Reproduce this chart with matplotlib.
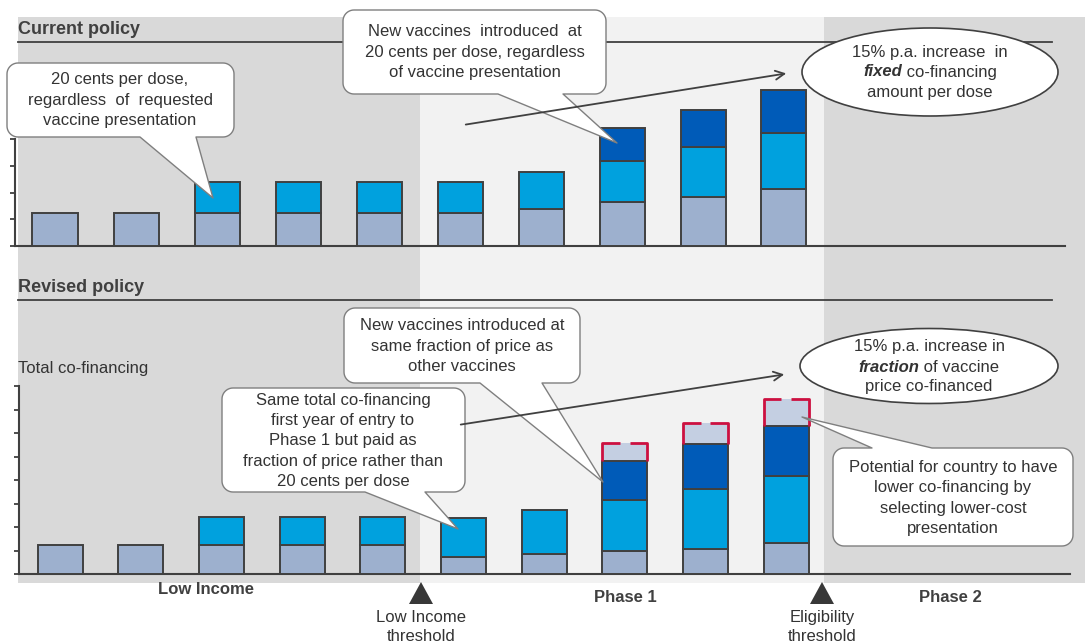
"""
Co-financing policy: current vs revised, stacked bars by income phase
"""
import matplotlib
matplotlib.use('Agg')
import matplotlib.pyplot as plt
from matplotlib.patches import Polygon, Ellipse, Rectangle
import numpy as np

plt.rcParams['font.family'] = ['Liberation Sans', 'DejaVu Sans']

# ── data (co-financing units per year, 10 years) ──
years = np.arange(10)

cur_base = [1.24, 1.24, 1.24, 1.24, 1.24, 1.24, 1.39, 1.65, 1.84, 2.13]
cur_new1 = [0, 0, 1.16, 1.16, 1.16, 1.16, 1.39, 1.54, 1.87, 2.10]
cur_new2 = [0, 0, 0, 0, 0, 0, 0, 1.24, 1.39, 1.61]

rev_base = [1.23, 1.23, 1.23, 1.23, 1.23, 0.72, 0.85, 0.98, 1.06, 1.32]
rev_new1 = [0, 0, 1.19, 1.19, 1.19, 1.66, 1.87, 2.17, 2.55, 2.85]
rev_new2 = [0, 0, 0, 0, 0, 0, 0, 1.66, 1.91, 2.13]
rev_saving = [0, 0, 0, 0, 0, 0, 0, 0.77, 0.89, 1.15]

# ── colours ──
GRAY_BG = '#D9D9D9'
LIGHT_BG = '#F2F2F2'
EDGE = '#404040'
TXT = '#333333'
C_BASE = '#9DB0CE'
C_NEW1 = '#00A1DE'
C_NEW2 = '#005BB8'
C_SAVE = '#C4CFE2'
RED = '#CC1040'

W, H = 1085, 643
fig = plt.figure(figsize=(W / 100, H / 100), dpi=100)


def fbox(l, t, r, b):
    return [l / W, 1 - b / H, (r - l) / W, (b - t) / H]


# ── background bands ──
bg = fig.add_axes([0, 0, 1, 1])
bg.set_xlim(0, W)
bg.set_ylim(H, 0)
bg.axis('off')
bg.set_zorder(0)
bg.add_patch(Rectangle((18, 17), 402, 566, color=GRAY_BG, lw=0))
bg.add_patch(Rectangle((420, 17), 404, 566, color=LIGHT_BG, lw=0))
bg.add_patch(Rectangle((824, 17), 261, 566, color=GRAY_BG, lw=0))
bg.plot([18, 1052], [42, 42], color=EDGE, lw=1.3)
bg.plot([18, 1052], [300, 300], color=EDGE, lw=1.3)
bg.text(18, 29, 'Current policy', fontsize=13, fontweight='bold', color=EDGE, va='center')
bg.text(18, 287, 'Revised policy', fontsize=13, fontweight='bold', color=EDGE, va='center')
bg.text(18, 369, 'Total co-financing', fontsize=12, color=TXT, va='center')


def panel(box, ymax, xlim, nticks):
    ax = fig.add_axes(fbox(*box))
    ax.set_zorder(1)
    ax.set_facecolor('none')
    ax.set_xlim(*xlim)
    ax.set_ylim(0, ymax)
    for s in ('top', 'right'):
        ax.spines[s].set_visible(False)
    for s in ('left', 'bottom'):
        ax.spines[s].set_color(EDGE)
        ax.spines[s].set_linewidth(1.5)
    ax.spines['left'].set_bounds(0, nticks)
    ax.set_yticks(range(nticks + 1))
    ax.set_yticklabels([])
    ax.set_xticks([])
    ax.tick_params(axis='y', direction='out', length=3.5, width=1.3, color=EDGE)
    return ax


def stack(ax, layers, colors, width):
    bottom = np.zeros(len(years))
    for vals, col in zip(layers, colors):
        vals = np.asarray(vals, dtype=float)
        m = vals > 0
        ax.bar(years[m], vals[m], width, bottom=bottom[m], color=col,
               edgecolor=EDGE, lw=1.4, zorder=3)
        bottom += vals
    return bottom


# ── top panel: current policy ──
ax1 = panel((15, 42, 1065, 246), 204 / 26.7, (-40 / 81, 1010 / 81), 4)
stack(ax1, [cur_base, cur_new1, cur_new2], [C_BASE, C_NEW1, C_NEW2], 45 / 81)

# ── bottom panel: revised policy ──
bw = 45 / 80.7
ax2 = panel((19, 300, 1070, 574), 274 / 23.5, (-41 / 80.7, 1010 / 80.7), 8)
tops = stack(ax2, [rev_base, rev_new1, rev_new2], [C_BASE, C_NEW1, C_NEW2], bw)
save = np.asarray(rev_saving)
m = save > 0
ax2.bar(years[m], save[m], bw, bottom=tops[m], color=C_SAVE, lw=0, zorder=2)
gap = 0.06
for xi, y0, h in zip(years[m], tops[m], save[m]):
    xl, xr = xi - bw / 2, xi + bw / 2
    ax2.plot([xl, xl, xi - gap], [y0, y0 + h, y0 + h], color=RED, lw=2,
             solid_capstyle='butt', zorder=4)
    ax2.plot([xi + gap, xr, xr], [y0 + h, y0 + h, y0], color=RED, lw=2,
             solid_capstyle='butt', zorder=4)

# ── overlay: callouts, arrows, labels ──
ov = fig.add_axes([0, 0, 1, 1])
ov.set_xlim(0, W)
ov.set_ylim(H, 0)
ov.axis('off')
ov.set_zorder(5)


def callout(l, t, r, b, tail, tip, side='bottom', rad=11):
    a0, a1 = tail

    def arc(cx, cy, t0, t1):
        th = np.radians(np.linspace(t0, t1, 12))
        return list(zip(cx + rad * np.cos(th), cy + rad * np.sin(th)))

    pts = []
    if side == 'top':
        pts += [(a0, t), tip, (a1, t)]
    pts += arc(r - rad, t + rad, -90, 0)
    pts += arc(r - rad, b - rad, 0, 90)
    if side == 'bottom':
        pts += [(a1, b), tip, (a0, b)]
    pts += arc(l + rad, b - rad, 90, 180)
    pts += arc(l + rad, t + rad, 180, 270)
    ov.add_patch(Polygon(pts, closed=True, fc='white', ec='#7F7F7F', lw=1,
                         joinstyle='round'))


def note(x, y, s, ls=1.42):
    ov.text(x, y, s, fontsize=12, color=TXT, ha='center', va='center',
            linespacing=ls, multialignment='center')


def mixed_line(x, y, parts):
    r = fig.canvas.get_renderer()
    objs = [ov.text(0, y, s, fontsize=12, color=TXT, ha='left', va='center',
                    fontweight=w, style=st) for s, w, st in parts]
    widths = [o.get_window_extent(r).width for o in objs]
    xs = x - sum(widths) / 2
    for o, wd in zip(objs, widths):
        o.set_x(xs)
        xs += wd


# top panel notes
callout(7, 63, 234, 137, (140, 196), (213, 198))
note(120, 100, '20 cents per dose,\nregardless  of  requested\nvaccine presentation')

callout(343, 10, 606, 94, (498, 563), (617, 143))
note(475, 52, 'New vaccines  introduced  at\n20 cents per dose, regardless\nof vaccine presentation')

ov.add_patch(Ellipse((930, 72), 256, 88, fc='white', ec=EDGE, lw=1.2))
note(930, 52, '15% p.a. increase  in')
mixed_line(930, 72, [('fixed', 'bold', 'italic'), (' co-financing', 'normal', 'normal')])
note(930, 93, 'amount per dose')

ov.annotate('', xy=(789, 73), xytext=(463, 125),
            arrowprops=dict(arrowstyle='->', color=EDGE, lw=1.3, mutation_scale=16))

# bottom panel notes
callout(344, 308, 580, 383, (480, 542), (603, 482))
note(462, 346, 'New vaccines introduced at\nsame fraction of price as\nother vaccines')

callout(222, 388, 465, 492, (365, 425), (458, 529))
note(343, 441, 'Same total co-financing\nfirst year of entry to\nPhase 1 but paid as\n'
     'fraction of price rather than\n20 cents per dose')

ov.add_patch(Ellipse((929, 366), 258, 75, fc='white', ec=EDGE, lw=1.2))
note(929, 347, '15% p.a. increase in')
mixed_line(929, 367, [('fraction', 'bold', 'italic'), (' of vaccine', 'normal', 'normal')])
note(929, 387, 'price co-financed')

ov.annotate('', xy=(787, 374), xytext=(458, 425),
            arrowprops=dict(arrowstyle='->', color=EDGE, lw=1.3, mutation_scale=16))

callout(833, 448, 1073, 546, (872, 932), (802, 417), side='top')
note(953, 498, 'Potential for country to have\nlower co-financing by\nselecting lower-cost\npresentation')

# phase labels and thresholds
ov.text(206, 589, 'Low Income', fontsize=12, fontweight='bold', color=EDGE, ha='center', va='center')
ov.text(625, 597, 'Phase 1', fontsize=12, fontweight='bold', color=EDGE, ha='center', va='center')
ov.text(950, 597, 'Phase 2', fontsize=12, fontweight='bold', color=EDGE, ha='center', va='center')
for cx, label in [(421, 'Low Income\nthreshold'), (822, 'Eligibility\nthreshold')]:
    ov.add_patch(Polygon([(cx - 12, 604), (cx + 12, 604), (cx, 582)], closed=True,
                         fc='#383838', ec='none'))
    note(cx, 627, label, ls=1.3)

fig.savefig('out.png', dpi=100, facecolor='white')
